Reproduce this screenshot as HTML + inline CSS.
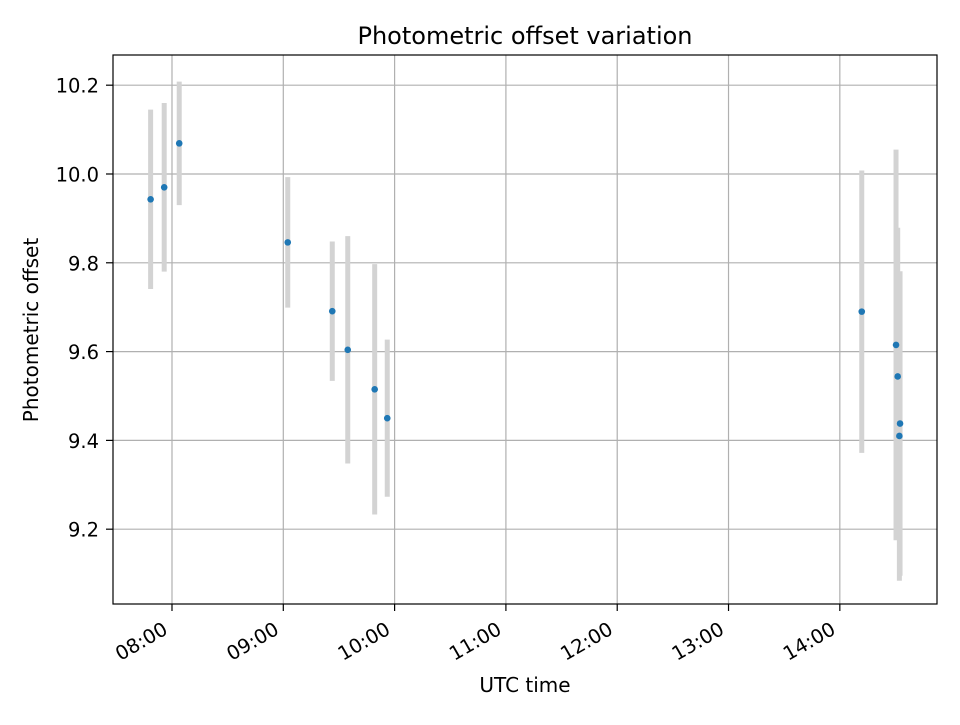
<!DOCTYPE html>
<html><head><meta charset="utf-8"><style>
body{margin:0;background:#fff;}
svg{font-family:"DejaVu Sans","Liberation Sans",sans-serif;}
</style></head><body>
<svg id="chart" width="960" height="720" viewBox="0 0 960 720" xmlns="http://www.w3.org/2000/svg">
<rect width="960" height="720" fill="#fff"/>
<text x="525" y="44" font-size="24" text-anchor="middle" fill="#000">Photometric offset variation</text>
<text x="525" y="692" font-size="20" text-anchor="middle">UTC time</text>
<text transform="translate(38,330) rotate(-90)" font-size="20" text-anchor="middle">Photometric offset</text>
<g id="grid"></g>
<g id="errs"></g>
<g id="pts"></g>
<g id="ticks"></g>
<rect x="113" y="55" width="824" height="549" fill="none" stroke="#000" stroke-width="1.2"/>
</svg>
<script>
// times in hours UTC
const times = [7.808, 7.930, 8.065, 9.040, 9.440, 9.579, 9.821, 9.934, 14.197, 14.505, 14.520, 14.541, 14.535];
const offsets = [9.943, 9.970, 10.069, 9.846, 9.691, 9.604, 9.515, 9.450, 9.690, 9.615, 9.544, 9.438, 9.410];
const errors = [0.202, 0.190, 0.139, 0.147, 0.157, 0.256, 0.282, 0.177, 0.318, 0.440, 0.335, 0.343, 0.326];
const xTicks = [8, 9, 10, 11, 12, 13, 14];
const xTickLabels = ["08:00", "09:00", "10:00", "11:00", "12:00", "13:00", "14:00"];
const yTicks = [9.2, 9.4, 9.6, 9.8, 10.0, 10.2];
const yTickLabels = ["9.2", "9.4", "9.6", "9.8", "10.0", "10.2"];

const X0 = 113, X1 = 937, Y0 = 604, Y1 = 55;
const xMin = 7.470, xMax = 14.873, yMin = 9.0315, yMax = 10.268;
const sx = h => X0 + (h - xMin) / (xMax - xMin) * (X1 - X0);
const sy = v => Y0 - (v - yMin) / (yMax - yMin) * (Y0 - Y1);
const NS = "http://www.w3.org/2000/svg";
function mk(tag, attrs, parent) {
  const e = document.createElementNS(NS, tag);
  for (const k in attrs) e.setAttribute(k, attrs[k]);
  parent.appendChild(e);
  return e;
}
const grid = document.getElementById('grid'), ticks = document.getElementById('ticks');
xTicks.forEach((t, i) => {
  const x = sx(t);
  const g = mk('line', {x1: x, x2: x, y1: Y1, y2: Y0, stroke: '#b0b0b0', 'stroke-width': 1.2}, grid);
  
  
  const tk = mk('line', {x1: x, x2: x, y1: Y0, y2: Y0 + 7, stroke: '#000', 'stroke-width': 1.2}, ticks);
  
  
  const tx = mk('text', {transform: `translate(${x - 3},${Y0 + 29}) rotate(-30)`, 'font-size': 19.5, 'text-anchor': 'end'}, ticks);
  tx.textContent = xTickLabels[i];
  
  
});
yTicks.forEach((t, i) => {
  const y = sy(t);
  const g = mk('line', {x1: X0, x2: X1, y1: y, y2: y, stroke: '#b0b0b0', 'stroke-width': 1.2}, grid);
  
  
  const tk = mk('line', {x1: X0 - 7, x2: X0, y1: y, y2: y, stroke: '#000', 'stroke-width': 1.2}, ticks);
  
  
  const tx = mk('text', {x: X0 - 14, y: y + 7.5, 'font-size': 19.5, 'text-anchor': 'end'}, ticks);
  tx.textContent = yTickLabels[i];
  
  
});
const errs = document.getElementById('errs'), pts = document.getElementById('pts');
times.forEach((t, i) => {
  const x = sx(t);
  const e = mk('line', {x1: x, x2: x, y1: sy(offsets[i] + errors[i]), y2: sy(offsets[i] - errors[i]), stroke: '#d3d3d3', 'stroke-width': 5}, errs);
  
  
});
times.forEach((t, i) => {
  const c = mk('circle', {cx: sx(t), cy: sy(offsets[i]), r: 3.3, fill: '#1f77b4'}, pts);
  
  
});
</script>
</body></html>
